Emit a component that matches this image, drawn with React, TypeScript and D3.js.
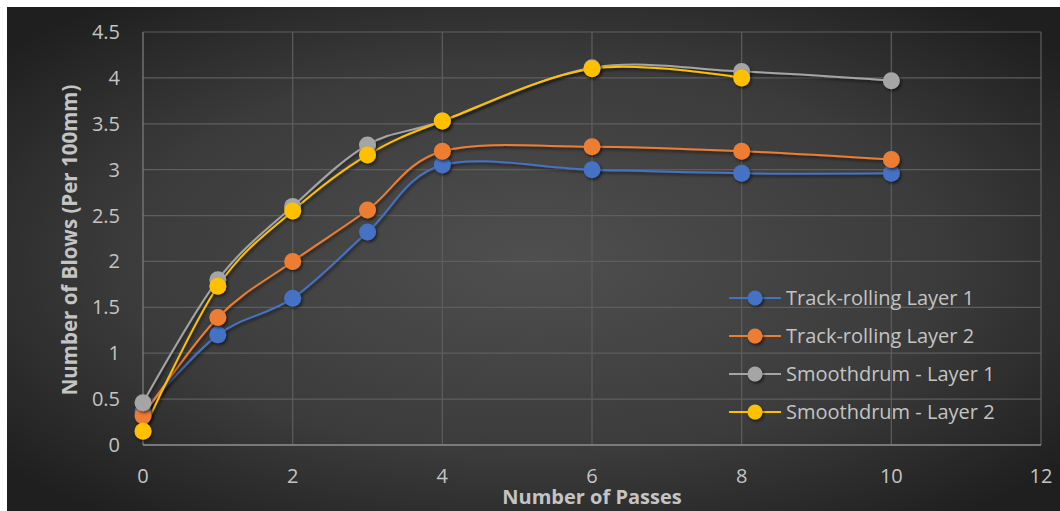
import React from "react";
import * as d3 from "d3";

// Compaction test: blows per 100 mm against number of roller passes
const passes = [0, 1, 2, 3, 4, 6, 8, 10];
const trackLayer1 = [0.36, 1.2, 1.6, 2.32, 3.05, 3.0, 2.96, 2.96];
const trackLayer2 = [0.32, 1.39, 2.0, 2.56, 3.2, 3.25, 3.2, 3.11];
const drumLayer1 = [0.46, 1.8, 2.6, 3.27, 3.53, 4.11, 4.07, 3.97];
const drumPasses2 = [0, 1, 2, 3, 4, 6, 8];
const drumLayer2 = [0.15, 1.73, 2.55, 3.16, 3.53, 4.1, 4.0];

const seriesNames = [
  "Track-rolling Layer 1",
  "Track-rolling Layer 2",
  "Smoothdrum - Layer 1",
  "Smoothdrum - Layer 2",
];
const xTicks = [0, 2, 4, 6, 8, 10, 12];
const yTicks = [0, 0.5, 1, 1.5, 2, 2.5, 3, 3.5, 4, 4.5];

const W = 1060;
const H = 511;
const FONT = "'Open Sans', 'Noto Sans', sans-serif";

export default function App() {
  const x = d3.scaleLinear().domain([0, 12]).range([143, 1041]);
  const y = d3.scaleLinear().domain([0, 4.5]).range([445, 32]);

  const series = [
    { name: seriesNames[0], color: "#4472C4", xs: passes, ys: trackLayer1 },
    { name: seriesNames[1], color: "#ED7D31", xs: passes, ys: trackLayer2 },
    { name: seriesNames[2], color: "#A5A5A5", xs: passes, ys: drumLayer1 },
    { name: seriesNames[3], color: "#FFC000", xs: drumPasses2, ys: drumLayer2 },
  ];

  const line = d3
    .line<[number, number]>()
    .x((d) => x(d[0]))
    .y((d) => y(d[1]))
    .curve(d3.curveCardinal.tension(0));

  const legendX = 729;
  const legendY0 = 298;
  const legendStep = 38;

  return (
    <svg
      width={W}
      height={H}
      style={{ position: "absolute", left: 0, top: 0 }}
      fontFamily={FONT}
    >
      <defs>
        <radialGradient id="bg" cx="50%" cy="50%" r="65%">
          <stop offset="0%" stopColor="#4f4f4f" />
          <stop offset="60%" stopColor="#3b3b3b" />
          <stop offset="100%" stopColor="#1f1f1f" />
        </radialGradient>
        <filter id="shadow" x="-50%" y="-50%" width="200%" height="200%">
          <feDropShadow dx="1.5" dy="2" stdDeviation="1.6" floodColor="#000" floodOpacity="0.55" />
        </filter>
      </defs>
      <rect x={0} y={0} width={W} height={H} fill="#fff" />
      <rect x={7} y={7} width={W - 7} height={H - 7} fill="url(#bg)" />

      {/* gridlines */}
      {yTicks.map((t) => (
        <line
          key={"gy" + t}
          x1={x(0)}
          x2={x(12)}
          y1={y(t)}
          y2={y(t)}
          stroke="#5e5e5e"
          strokeWidth={1.2}
        />
      ))}
      {xTicks.map((t) => (
        <line
          key={"gx" + t}
          x1={x(t)}
          x2={x(t)}
          y1={y(4.5)}
          y2={y(0)}
          stroke={t === 0 ? "#808080" : "#5e5e5e"}
          strokeWidth={1.2}
        />
      ))}
      <line x1={x(0)} x2={x(12)} y1={y(0)} y2={y(0)} stroke="#8a8a8a" strokeWidth={1.5} />

      {/* tick labels */}
      {yTicks.map((t) => (
        <text
          key={"ty" + t}
          x={120}
          y={y(t)}
          dy="0.35em"
          textAnchor="end"
          fontSize={20}
          fill="#c4c4c4"
        >
          {t}
        </text>
      ))}
      {xTicks.map((t) => (
        <text
          key={"tx" + t}
          x={x(t)}
          y={476}
          dy="0.35em"
          textAnchor="middle"
          fontSize={20}
          fill="#c4c4c4"
        >
          {t}
        </text>
      ))}

      {/* axis titles */}
      <text
        x={592}
        y={497}
        dy="0.35em"
        textAnchor="middle"
        fontSize={20}
        fontWeight="bold"
        fill="#c4c4c4"
      >
        Number of Passes
      </text>
      <text
        transform={`translate(70,${240}) rotate(-90)`}
        textAnchor="middle"
        dy="0.35em"
        fontSize={20.5}
        fontWeight="bold"
        fill="#c4c4c4"
      >
        Number of Blows (Per 100mm)
      </text>

      {/* series lines and markers */}
      {series.map((s) => {
        const pts = s.xs.map((v, i) => [v, s.ys[i]] as [number, number]);
        return (
          <g key={s.name}>
            <path d={line(pts) || ""} fill="none" stroke={s.color} strokeWidth={2} filter="url(#shadow)" />
          </g>
        );
      })}
      {series.map((s) => (
        <g key={s.name + "m"} filter="url(#shadow)">
          {s.xs.map((v, i) => (
            <circle key={i} cx={x(v)} cy={y(s.ys[i])} r={8.5} fill={s.color} />
          ))}
        </g>
      ))}

      {/* legend */}
      {series.map((s, i) => {
        const ly = legendY0 + i * legendStep;
        return (
          <g key={s.name + "l"}>
            <line x1={legendX} x2={legendX + 52} y1={ly} y2={ly} stroke={s.color} strokeWidth={2} />
            <circle cx={legendX + 26} cy={ly} r={7.5} fill={s.color} filter="url(#shadow)" />
            <text x={legendX + 57} y={ly} dy="0.35em" fontSize={20} fill="#c4c4c4">
              {s.name}
            </text>
          </g>
        );
      })}
    </svg>
  );
}
